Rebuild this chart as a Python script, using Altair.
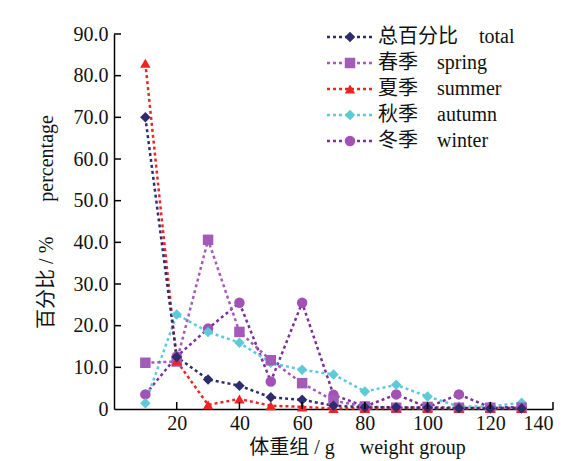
import altair as alt
import pandas as pd

weight_groups = [10, 20, 30, 40, 50, 60, 70, 80, 90, 100, 110, 120, 130]
total  = [70.0, 12.5, 7.1, 5.6, 2.8, 2.2, 0.8, 0.4, 0.4, 0.3, 0.2, 0.1, 0.1]
spring = [11.1, 11.4, 40.6, 18.5, 11.7, 6.2, 2.0, 0.6, 0.3, 0.5, 0.3, 0.3, 0.3]
summer = [83.0, 11.5, 1.0, 2.4, 0.8, 0.5, 0.1, 0.1, 0.2, 0.1, 0.1, 0.1, 0.1]
autumn = [1.4, 22.7, 18.5, 15.9, 11.1, 9.4, 8.3, 4.2, 5.8, 3.0, 0.6, 0.6, 1.5]
winter = [3.5, 12.6, 19.3, 25.5, 6.6, 25.5, 3.4, 0.6, 3.5, 0.4, 3.5, 0.4, 0.4]

series_keys = ["total", "spring", "summer", "autumn", "winter"]
series_cn = ["总百分比", "春季", "夏季", "秋季", "冬季"]
series_en = ["total", "spring", "summer", "autumn", "winter"]
line_colors = ["#2d2d6e", "#a45ab8", "#ee2424", "#5ccad8", "#7a2f9c"]
marker_colors = ["#2d2d6e", "#a45ab8", "#ee2424", "#5ccad8", "#a152b4"]
shapes = ["diamond", "square", "triangle-up", "diamond", "circle"]

x_ticks = [20, 40, 60, 80, 100, 120, 140]
y_ticks = [0, 10, 20, 30, 40, 50, 60, 70, 80, 90]

values = dict(zip(series_keys, [total, spring, summer, autumn, winter]))
rows = []
for k in series_keys:
    for xv, yv in zip(weight_groups, values[k]):
        rows.append({"series": k, "x": xv, "y": yv})
df = pd.DataFrame(rows)

W, H = 439, 375
FONT = "Liberation Serif, Noto Sans CJK SC"
SP = "\u00a0"

xscale = alt.Scale(domain=[0, 140], nice=False, zero=True)
yscale = alt.Scale(domain=[0, 90], nice=False)

line_color = alt.Color("series:N", scale=alt.Scale(domain=series_keys, range=line_colors), legend=None)
marker_color = alt.Color("series:N", scale=alt.Scale(domain=series_keys, range=marker_colors), legend=None)

draw_order = ["winter", "autumn", "spring", "summer", "total"]
base = alt.Chart(df)

xaxis = alt.Axis(values=x_ticks, ticks=False, grid=False, labelFont=FONT, labelFontSize=20,
                 labelColor="#111", domainColor="#000", domainWidth=1.5, labelPadding=4,
                 title="体重组 / g" + SP * 5 + "weight group", titleFont=FONT, titleFontSize=20,
                 titleFontWeight="normal", titleColor="#111", titleX=243, titlePadding=4)
yaxis = alt.Axis(values=y_ticks, ticks=False, grid=False, labelFont=FONT, labelFontSize=20,
                 labelColor="#111", domainColor="#000", domainWidth=1.5, labelPadding=6,
                 labelExpr="datum.value == 0 ? '0' : format(datum.value, '.1f')",
                 title="百分比 / %" + SP * 7 + "percentage", titleFont=FONT, titleFontSize=20,
                 titleFontWeight="normal", titleColor="#111", titlePadding=17)

lines = base.mark_line(strokeDash=[3, 3], strokeWidth=2.5).encode(
    x=alt.X("x:Q", scale=xscale, axis=xaxis),
    y=alt.Y("y:Q", scale=yscale, axis=yaxis),
    color=line_color,
    order=alt.Order("x:Q"),
    detail="series:N",
)
points = base.mark_point(filled=True, size=110, opacity=1).encode(
    x=alt.X("x:Q", scale=xscale, axis=xaxis),
    y=alt.Y("y:Q", scale=yscale, axis=yaxis),
    color=marker_color,
    shape=alt.Shape("series:N", scale=alt.Scale(domain=series_keys, range=shapes), legend=None),
)

line_layers = [lines.transform_filter(alt.datum.series == s) for s in draw_order]
point_layers = [points.transform_filter(alt.datum.series == s) for s in draw_order]

xt = alt.Chart(pd.DataFrame({"t": x_ticks})).mark_rule(color="#000", strokeWidth=1.5).encode(
    x=alt.X("t:Q", scale=xscale, axis=xaxis), y=alt.value(H), y2=alt.value(H - 7))
yt = alt.Chart(pd.DataFrame({"t": y_ticks[1:]})).mark_rule(color="#000", strokeWidth=1.5).encode(
    y=alt.Y("t:Q", scale=yscale, axis=yaxis), x=alt.value(0), x2=alt.value(7))

main = alt.layer(*line_layers, *point_layers, xt, yt).resolve_scale(color="independent")

leg_df = pd.DataFrame({
    "order": list(range(5)),
    "series": series_keys,
    "cn": series_cn,
    "en": series_en,
    "lc": line_colors,
    "mc": marker_colors,
})
ly = alt.Y("order:Q", scale=alt.Scale(domain=[0, 4], range=[3, 107]), axis=None)
leg = alt.Chart(leg_df)
leg_line = leg.mark_rule(strokeDash=[3, 3], strokeWidth=2.5).encode(
    x=alt.value(213), x2=alt.value(258), y=ly, color=alt.Color("lc:N", scale=None))
leg_pt = leg.mark_point(filled=True, size=110, opacity=1).encode(
    x=alt.value(236), y=ly, color=alt.Color("mc:N", scale=None),
    shape=alt.Shape("series:N", scale=alt.Scale(domain=series_keys, range=shapes), legend=None))
leg_cn = leg.mark_text(align="left", baseline="middle", font="Noto Sans CJK SC", fontSize=20,
                       fontWeight="normal", color="#111").encode(x=alt.value(264), y=ly, text="cn:N")
en_style = dict(align="left", baseline="middle", font="Liberation Serif", fontSize=20, color="#111")
leg_en4 = leg.mark_text(**en_style).encode(x=alt.value(365), y=ly, text="en:N").transform_filter(
    "length(datum.cn) == 4")
leg_en2 = leg.mark_text(**en_style).encode(x=alt.value(323), y=ly, text="en:N").transform_filter(
    "length(datum.cn) == 2")

legend = alt.layer(leg_line, leg_pt, leg_cn, leg_en4, leg_en2)

chart = alt.layer(main, legend).resolve_scale(
    y="independent", color="independent"
).properties(
    width=W, height=H,
    padding={"left": 106, "top": 26, "right": 20, "bottom": 50},
    autosize=alt.AutoSizeParams(type="none"),
    view=alt.ViewBackground(stroke="transparent", strokeWidth=0),
).configure_view(strokeWidth=0, stroke="transparent").configure_axis(grid=False).configure(background="white")

chart.save("out.html", embed_options={"renderer": "svg", "actions": False})
